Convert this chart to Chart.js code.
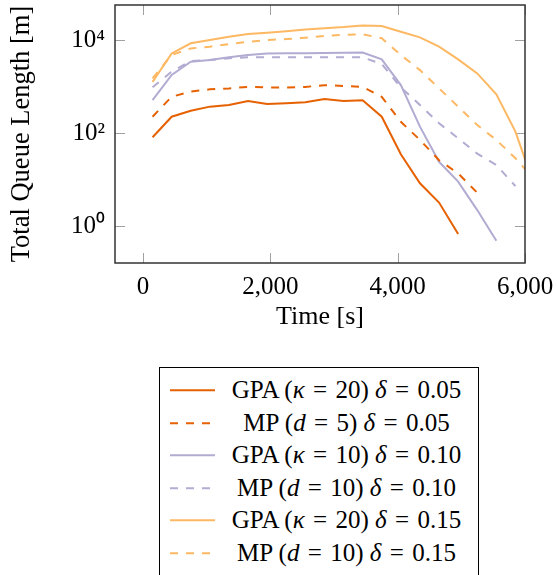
<!DOCTYPE html>
<html>
<head>
<meta charset="utf-8">
<script src="https://cdn.jsdelivr.net/npm/chart.js@4/dist/chart.umd.min.js"></script>
<style>
  body { margin: 0; background: #fff; }
  #wrap { position: relative; width: 557px; height: 575px; }
  #c { position: absolute; left: 0; top: 0; }
  #legend {
    position: absolute; left: 159px; top: 367px; width: 318px; height: 204px;
    border: 1px solid #000; padding-top: 6px; box-sizing: content-box;
    font-family: "Liberation Serif", serif; font-size: 25px; color: #000;
  }
  .row { position: relative; height: 32.6px; }
  .row svg { position: absolute; left: 10px; top: 0; }
  .row span { position: absolute; left: 55px; right: 0; top: 0; line-height: 32.6px; text-align: center; white-space: nowrap; }
</style>
</head>
<body>
<div id="wrap">
  <canvas id="c" width="557" height="345"></canvas>
  <div id="legend"></div>
</div>
<script>
// time stamps [s]
var timeS = [150, 450, 750, 1050, 1350, 1650, 1950, 2250, 2550, 2850, 3150, 3450, 3750, 4050, 4350, 4650, 4950, 5250, 5550, 5850, 6150];

// queue lengths [m]
var gpa05 = [81, 224, 302, 369, 400, 490, 420, 436, 457, 537, 490, 504, 224, 35, 8.3, 3.2, 0.67];
var mp05 = [224, 603, 775, 870, 910, 980, 955, 955, 980, 1070, 1030, 980, 600, 174, 71, 26, 13.5, 5.2];
var gpa10 = [510, 1770, 3400, 3700, 4250, 4760, 5100, 5200, 5200, 5250, 5300, 5400, 3830, 1070, 137, 24, 9, 2.2, 0.48];
var mp10 = [960, 2090, 3530, 3700, 4060, 4250, 4250, 4250, 4250, 4250, 4250, 4250, 3030, 960, 400, 162, 77, 36, 20.5, 7.2];
var gpa15 = [1260, 5150, 8500, 10000, 11800, 13500, 14400, 15500, 16900, 18000, 19000, 20500, 20000, 15100, 11400, 7200, 3840, 1910, 680, 107, 7];
var mp15 = [1500, 4760, 6600, 7200, 8100, 9150, 10000, 10500, 11200, 12200, 12900, 13300, 10900, 4760, 2250, 910, 370, 148, 71, 28.6, 10];

var EQ = '\u2004=\u2004';
var seriesLabels = [
  'GPA (<i>κ</i>' + EQ + '20) <i>δ</i>' + EQ + '0.05',
  'MP (<i>d</i>' + EQ + '5) <i>δ</i>' + EQ + '0.05',
  'GPA (<i>κ</i>' + EQ + '10) <i>δ</i>' + EQ + '0.10',
  'MP (<i>d</i>' + EQ + '10) <i>δ</i>' + EQ + '0.10',
  'GPA (<i>κ</i>' + EQ + '20) <i>δ</i>' + EQ + '0.15',
  'MP (<i>d</i>' + EQ + '10) <i>δ</i>' + EQ + '0.15'
];
var xTicks = [0, 2000, 4000, 6000];
var yTicks = [1, 100, 10000];
var yTickLabels = {1: '10\u2070', 100: '10\u00b2', 10000: '10\u2074'};

var dark = '#e66101', lav = '#b2abd2', light = '#fdb863';

function pts(vals) {
  return vals.map(function(v, i) { return {x: timeS[i], y: v}; });
}
function ds(i, vals, col, dashed) {
  return {
    label: seriesLabels[i], data: pts(vals), borderColor: col, backgroundColor: col,
    borderWidth: 2, pointRadius: 0, tension: 0, fill: false,
    borderDash: dashed ? [8, 8] : []
  };
}

// frame + inward ticks like pgfplots
var framePlugin = {
  id: 'frame',
  beforeDatasetsDraw: function(chart) {
    var a = chart.chartArea, ctx = chart.ctx;
    var xs = chart.scales.x, ys = chart.scales.y;
    ctx.save();
    ctx.strokeStyle = '#a0a0a0';
    ctx.lineWidth = 1;
    ctx.beginPath();
    xTicks.forEach(function(t) {
      var px = Math.round(xs.getPixelForValue(t)) + 0.5;
      ctx.moveTo(px, a.bottom); ctx.lineTo(px, a.bottom - 10);
      ctx.moveTo(px, a.top); ctx.lineTo(px, a.top + 10);
    });
    yTicks.forEach(function(t) {
      var py = Math.round(ys.getPixelForValue(t)) + 0.5;
      ctx.moveTo(a.left, py); ctx.lineTo(a.left + 10, py);
      ctx.moveTo(a.right, py); ctx.lineTo(a.right - 10, py);
    });
    ctx.stroke();
    ctx.restore();
  },
  afterDatasetsDraw: function(chart) {
    var a = chart.chartArea, ctx = chart.ctx;
    ctx.save();
    ctx.strokeStyle = '#333';
    ctx.lineWidth = 1.5;
    ctx.strokeRect(a.left, a.top, a.right - a.left, a.bottom - a.top);
    ctx.restore();
  }
};

Chart.defaults.font.family = '"Liberation Serif", serif';
Chart.defaults.font.size = 25;
Chart.defaults.color = '#000';

var chart = new Chart(document.getElementById('c'), {
  type: 'line',
  data: {
    datasets: [
      ds(0, gpa05, dark, false),
      ds(1, mp05, dark, true),
      ds(2, gpa10, lav, false),
      ds(3, mp10, lav, true),
      ds(4, gpa15, light, false),
      ds(5, mp15, light, true)
    ]
  },
  options: {
    responsive: false,
    animation: false,
    layout: { padding: { top: 5, right: 32, left: 0, bottom: 0 } },
    plugins: { legend: { display: false }, tooltip: { enabled: false } },
    scales: {
      x: {
        type: 'linear', min: -440, max: 6000,
        grid: { display: false, drawTicks: false },
        border: { display: false },
        afterBuildTicks: function(s) { s.ticks = xTicks.map(function(v) { return {value: v}; }); },
        afterFit: function(s) { s.height = 82; s.paddingLeft = 0; s.paddingRight = 0; },
        ticks: { padding: 9, maxRotation: 0, callback: function(v) { return v.toLocaleString('en-US'); } },
        title: { display: true, text: 'Time [s]', font: { size: 26 }, padding: { top: 0, bottom: 12 } }
      },
      y: {
        type: 'logarithmic', min: 0.16, max: 56600,
        grid: { display: false, drawTicks: false },
        border: { display: false },
        afterBuildTicks: function(s) { s.ticks = yTicks.map(function(v) { return {value: v}; }); },
        afterFit: function(s) { s.width = 115; s.paddingTop = 0; s.paddingBottom = 0; },
        ticks: { padding: 10, callback: function(v) { return yTickLabels[v] || ''; } },
        title: { display: true, text: 'Total Queue Length [m]', font: { size: 26.5 }, padding: { top: 6, bottom: 0 } }
      }
    }
  },
  plugins: [framePlugin]
});

// legend box built from the datasets
var leg = document.getElementById('legend');
chart.data.datasets.forEach(function(d) {
  var row = document.createElement('div');
  row.className = 'row';
  var dash = d.borderDash.length ? ' stroke-dasharray="8 8"' : '';
  row.innerHTML = '<svg width="45" height="33"><line x1="0" y1="16.3" x2="45" y2="16.3" stroke="' +
    d.borderColor + '" stroke-width="2"' + dash + '/></svg><span>' + d.label + '</span>';
  leg.appendChild(row);
});
</script>
</body>
</html>
